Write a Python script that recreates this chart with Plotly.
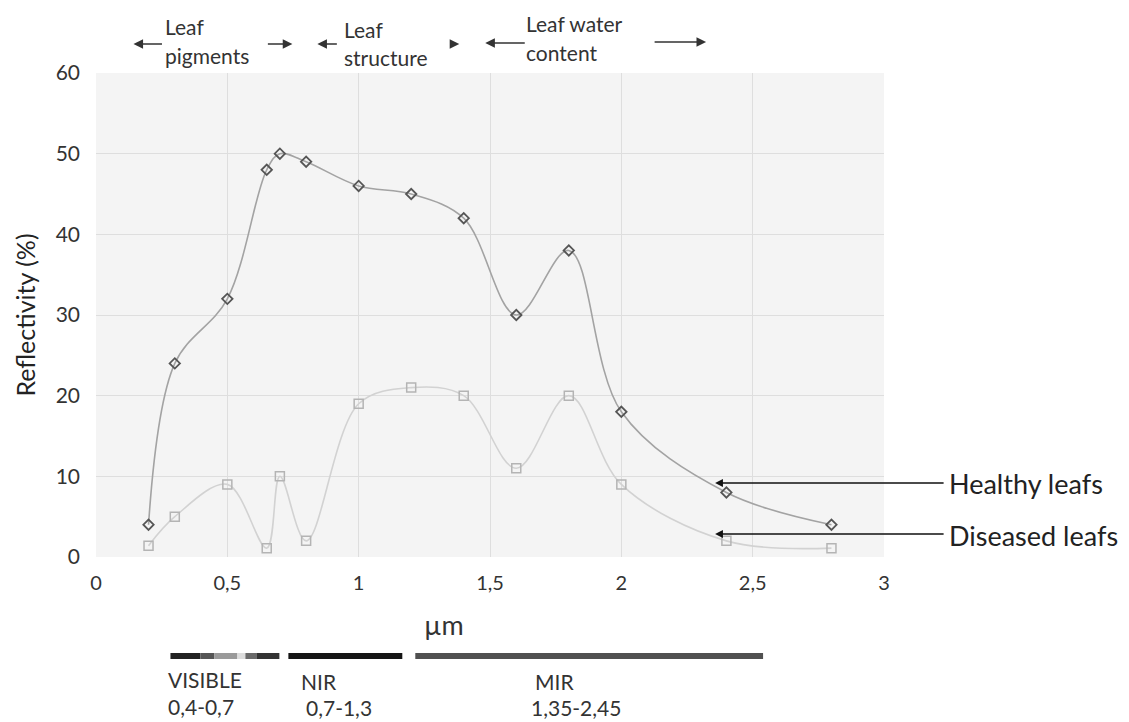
import plotly.graph_objects as go

# ---- data ----
wavelength = [0.2, 0.3, 0.5, 0.65, 0.7, 0.8, 1.0, 1.2, 1.4, 1.6, 1.8, 2.0, 2.4, 2.8]
healthy = [4, 24, 32, 48, 50, 49, 46, 45, 42, 30, 38, 18, 8, 4]
diseased = [1.4, 5, 9, 1.1, 10, 2, 19, 21, 20, 11, 20, 9, 2, 1.1]
x_ticks = [0, 0.5, 1, 1.5, 2, 2.5, 3]
y_ticks = [0, 10, 20, 30, 40, 50, 60]
band_names = ["VISIBLE", "NIR", "MIR"]
band_ranges = ["0,4-0,7", "0,7-1,3", "1,35-2,45"]

W, H = 1129, 722
L, R, T, B = 95.5, 884, 73, 557
FONT = "Lato"


def px(x, y):
    return (x - L) / (R - L), (B - y) / (B - T)


fig = go.Figure()
fig.add_trace(go.Scatter(
    x=wavelength, y=healthy, mode="lines+markers", line_shape="spline",
    line=dict(color="#a3a3a3", width=1.6),
    marker=dict(symbol="diamond-open", size=8, color="#555555", line=dict(width=1.8)),
    name="Healthy leafs", showlegend=False))
fig.add_trace(go.Scatter(
    x=wavelength, y=diseased, mode="lines+markers", line_shape="spline",
    line=dict(color="#d2d2d2", width=1.6),
    marker=dict(symbol="square-open", size=9, color="#b4b4b4", line=dict(width=1.5)),
    name="Diseased leafs", showlegend=False))

ann = []
shapes = []


def text(x, y, s, size=21, color="#333333", xanchor="left"):
    X, Y = px(x, y)
    ann.append(dict(x=X, y=Y, xref="paper", yref="paper", text=s, showarrow=False,
                    xanchor=xanchor, yanchor="middle",
                    font=dict(family=FONT, size=size, color=color)))


def arrow(hx, hy, tx, ty, color="#333333", width=1.6, size=1.0):
    X, Y = px(hx, hy)
    ann.append(dict(x=X, y=Y, xref="paper", yref="paper", text="", showarrow=True,
                    ax=tx - hx, ay=ty - hy, arrowhead=2, arrowsize=size,
                    arrowwidth=width, arrowcolor=color, standoff=0, startstandoff=0))


# top region labels
text(163, 27, "Leaf")
text(163, 56, "pigments")
text(342, 29, "Leaf")
text(342, 57, "structure")
text(524, 23, "Leaf water")
text(524, 53, "content")
arrow(133, 44, 163, 44, size=1.2)
arrow(292, 44, 266, 44, size=1.2)
arrow(317, 44, 338, 44, size=1.2)
arrow(459, 44, 449, 44, size=1.2)
arrow(485, 43, 526, 43, size=1.2)
arrow(706, 42, 653, 42, size=1.2)

# right labels
arrow(715, 483, 945, 483, color="#111111", width=1.3, size=1.2)
arrow(715, 534, 945, 534, color="#111111", width=1.3, size=1.2)
text(947, 483, "Healthy leafs", size=27, color="#222222")
text(947, 535, "Diseased leafs", size=27, color="#222222")

# x-axis title
text(444, 624, "µm", size=27, color="#333333", xanchor="center")

# spectrum bars
segs = [(170, 200, "#222222"), (200, 214, "#555555"), (214, 237, "#9a9a9a"),
        (237, 245, "#dddddd"), (245, 256, "#6a6a6a"), (256, 279, "#333333"),
        (288, 402, "#151515"), (415, 763, "#505050")]
for x0, x1, c in segs:
    X0, Y0 = px(x0, 659)
    X1, Y1 = px(x1, 653)
    shapes.append(dict(type="rect", xref="paper", yref="paper", x0=X0, x1=X1,
                       y0=Y0, y1=Y1, fillcolor=c, line=dict(width=0), layer="above"))

text(166, 679, band_names[0], size=21)
text(299, 681, band_names[1], size=21)
text(533, 681, band_names[2], size=21)
text(166, 706, band_ranges[0], size=21)
text(304, 707, band_ranges[1], size=21)
text(529, 707, band_ranges[2], size=21)

fig.update_layout(
    width=W, height=H,
    margin=dict(l=L, r=W - R, t=T, b=H - B, pad=0),
    paper_bgcolor="white", plot_bgcolor="#f4f4f4",
    separators=",.",
    font=dict(family=FONT, size=20, color="#333333"),
    annotations=ann, shapes=shapes,
    xaxis=dict(range=[0, 3], tickvals=x_ticks, showgrid=True, gridcolor="#dedede",
               gridwidth=1, zeroline=False, showline=False, ticks="",
               tickfont=dict(size=20, color="#333333"), ticklabelstandoff=12),
    yaxis=dict(range=[0, 60], tickvals=y_ticks, showgrid=True, gridcolor="#dedede",
               gridwidth=1, zeroline=False, showline=False, ticks="",
               tickfont=dict(size=21, color="#333333"), ticklabelstandoff=15,
               title=dict(text="Reflectivity (%)", font=dict(size=25, color="#222222"),
                          standoff=12)),
)

fig.write_html("out.html", config={"displayModeBar": False},
               post_script="document.body.style.margin='0';")
